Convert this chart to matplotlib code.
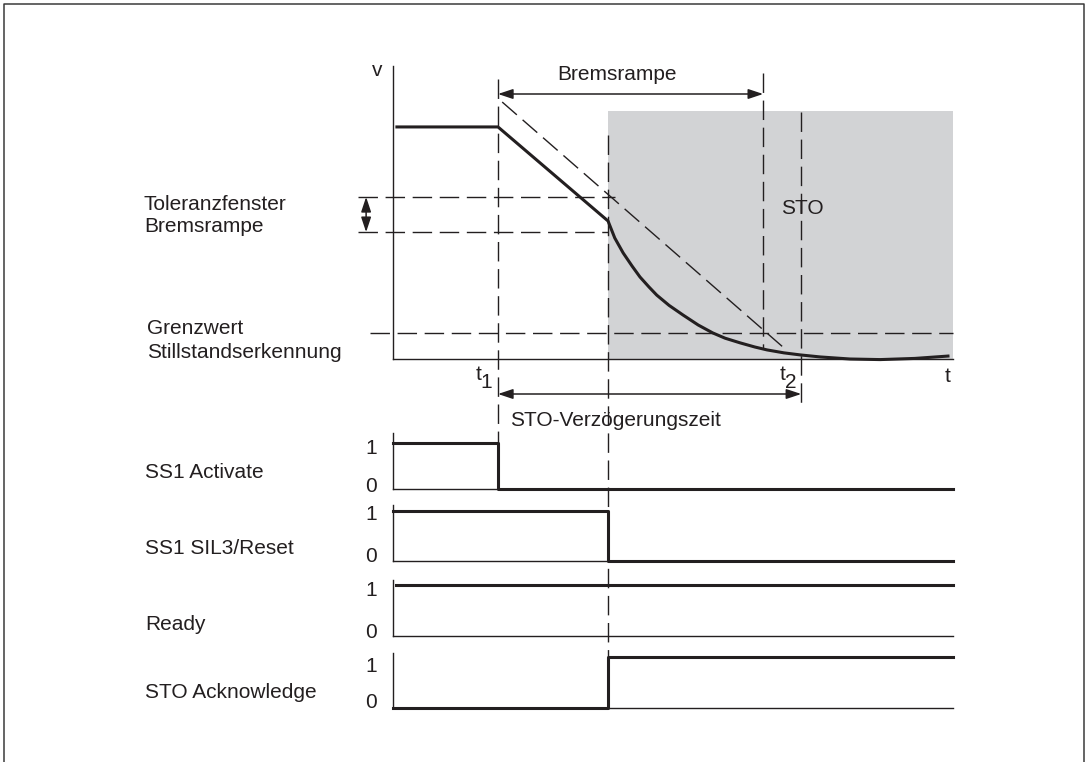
import matplotlib

matplotlib.use("Agg")
import matplotlib.pyplot as plt
from matplotlib import transforms

plt.rcParams["font.family"] = ["Liberation Sans", "DejaVu Sans"]

FIG_W, FIG_H, DPI = 1088, 762, 100
INK = "#231f20"
SHADE = "#d2d3d5"
FONT_SIZE = 15

# time axis in arbitrary units (0 .. 10)
T_END = 10.0
T1 = 1.875
T_STO = 3.84
T2 = 6.61
T_DELAY = 7.29

# speed curve
speed_t = [0.07, 1.875, 3.84, 3.96, 4.11, 4.27, 4.41, 4.57, 4.71, 4.93, 5.18, 5.45,
           5.71, 5.93, 6.20, 6.46, 6.68, 6.98, 7.27, 7.63, 8.16, 8.70, 9.32, 9.91]
speed_v = [0.792, 0.792, 0.471, 0.413, 0.362, 0.317, 0.280, 0.246, 0.218, 0.183, 0.150, 0.116,
           0.089, 0.071, 0.055, 0.041, 0.031, 0.021, 0.014, 0.007, 0.0, -0.002, 0.002, 0.010]

# nominal braking ramp (dashed)
ramp_t = [1.95, 6.98]
ramp_v = [0.877, 0.038]

TOL_HIGH = 0.553
TOL_LOW = 0.433
STANDSTILL = 0.089
STO_TOP = 0.846

# digital signals (steps-post)
signal_names = ["SS1 Activate", "SS1 SIL3/Reset", "Ready", "STO Acknowledge"]
signal_t = [
    [0.0, T1, T_END],
    [0.0, T_STO, T_END],
    [0.05, T_END],
    [0.0, T_STO, T_END],
]
signal_v = [
    [1, 0, 0],
    [1, 0, 0],
    [1, 1],
    [0, 1, 1],
]

# layout in pixels: (top, baseline, level of "1")
SPEED_BOX = (393, 953, 66, 359)
SIGNAL_ROWS = [(433, 489, 443), (505, 561, 511), (580, 636, 585), (653, 708, 657)]
SIGNAL_LABEL_Y = [473, 548, 624, 692]
SIGNAL_ONE_Y = [449, 514, 590, 667]
SIGNAL_ZERO_Y = [486, 557, 633, 702]

DASH = dict(color=INK, lw=1.0, dashes=(14, 5.5))


def add_px_axes(fig, left, right, top, bottom):
    return fig.add_axes(
        [left / FIG_W, 1 - bottom / FIG_H, (right - left) / FIG_W, (bottom - top) / FIG_H]
    )


def style_axes(ax):
    for side in ("top", "right"):
        ax.spines[side].set_visible(False)
    for side in ("left", "bottom"):
        ax.spines[side].set_color(INK)
        ax.spines[side].set_linewidth(1.0)
    ax.set_xticks([])
    ax.set_yticks([])
    ax.patch.set_alpha(0)


def arrow(ax, start, end, coords):
    ax.annotate(
        "",
        xy=end,
        xytext=start,
        xycoords=coords,
        textcoords=coords,
        annotation_clip=False,
        arrowprops=dict(
            arrowstyle="<|-|>,head_length=0.9,head_width=0.3",
            mutation_scale=10,
            color=INK,
            lw=1.1,
            shrinkA=0,
            shrinkB=0,
        ),
    )


def main():
    fig = plt.figure(figsize=(FIG_W / DPI, FIG_H / DPI), dpi=DPI)

    left, right, top, bottom = SPEED_BOX
    ax_v = add_px_axes(fig, left, right, top, bottom)
    style_axes(ax_v)
    ax_v.set_xlim(0, T_END)
    ax_v.set_ylim(0, 1)

    ax_v.fill_between([T_STO, T_END], 0, STO_TOP, color=SHADE, lw=0, zorder=0)
    ax_v.plot([-0.625, 3.96], [TOL_HIGH] * 2, clip_on=False, **DASH)
    ax_v.plot([-0.625, T_STO], [TOL_LOW] * 2, clip_on=False, **DASH)
    ax_v.plot([-0.41, T_END], [STANDSTILL] * 2, clip_on=False, **DASH)
    ax_v.plot(ramp_t, ramp_v, clip_on=False, **DASH)
    ax_v.plot(speed_t, speed_v, color=INK, lw=2.2, clip_on=False, solid_joinstyle="round")
    arrow(ax_v, (-0.48, TOL_HIGH), (-0.48, TOL_LOW), "data")

    for (top_px, base_px, one_px), times, values in zip(SIGNAL_ROWS, signal_t, signal_v):
        ax_s = add_px_axes(fig, left, right, top_px, base_px)
        style_axes(ax_s)
        ax_s.set_xlim(0, T_END)
        ax_s.set_ylim(0, (base_px - top_px) / (base_px - one_px))
        ax_s.plot(times, values, drawstyle="steps-post", color=INK, lw=2.2, clip_on=False)

    # overlay in pixel rows, time on x via blended transform
    ov = fig.add_axes([0, 0, 1, 1], zorder=5)
    ov.set_xlim(0, FIG_W)
    ov.set_ylim(FIG_H, 0)
    ov.axis("off")
    blend = transforms.blended_transform_factory(ax_v.transData, ov.transData)

    for t, y0, y1 in [(T1, 79, 443), (T_STO, 135, 657), (T2, 73, 348), (T_DELAY, 112, 408)]:
        ov.plot([t, t], [y0, y1], transform=blend, clip_on=False, **DASH)

    arrow(ov, (T1, 94), (T2, 94), blend)
    arrow(ov, (T1, 394), (T_DELAY, 394), blend)

    txt = dict(color=INK, fontsize=FONT_SIZE, va="center")
    ov.text(617, 74, "Bremsrampe", ha="center", **txt)
    ov.text(781, 208, "STO", ha="left", **txt)
    ov.text(510, 420, "STO-Verzögerungszeit", ha="left", **txt)
    ov.text(377, 70, "v", ha="center", **txt)
    ov.text(948, 377, "t", ha="center", **txt)
    ov.text(478.5, 375, "t", ha="center", **txt)
    ov.text(486.5, 382, "1", ha="center", **txt)
    ov.text(783, 375, "t", ha="center", **txt)
    ov.text(791, 382, "2", ha="center", **txt)
    ov.text(144, 205, "Toleranzfenster", ha="left", **txt)
    ov.text(144, 227, "Bremsrampe", ha="left", **txt)
    ov.text(147, 329, "Grenzwert", ha="left", **txt)
    ov.text(147, 352, "Stillstandserkennung", ha="left", **txt)

    for name, y_name, y_one, y_zero in zip(signal_names, SIGNAL_LABEL_Y, SIGNAL_ONE_Y, SIGNAL_ZERO_Y):
        ov.text(145, y_name, name, ha="left", **txt)
        ov.text(371, y_one, "1", ha="center", **txt)
        ov.text(371, y_zero, "0", ha="center", **txt)

    # page frame
    ov.plot([4, 4, 1084, 1084], [FIG_H, 4, 4, FIG_H], color="#3a3a3a", lw=1.1, clip_on=False)

    fig.savefig("out.png", dpi=DPI)


if __name__ == "__main__":
    main()
